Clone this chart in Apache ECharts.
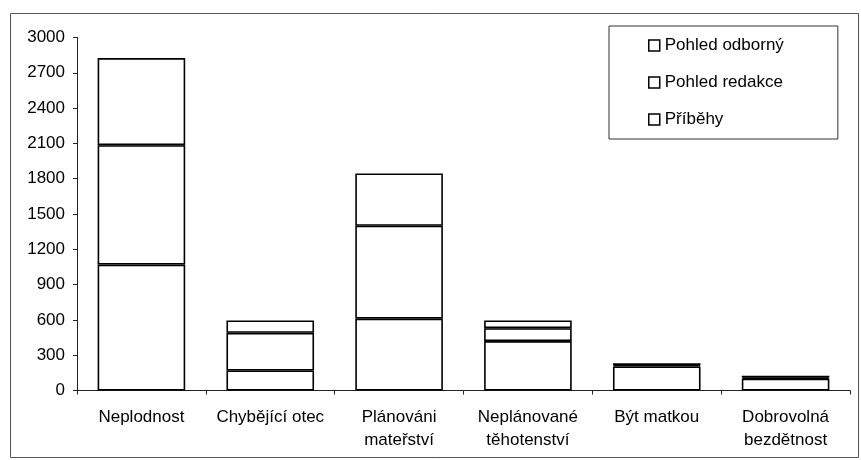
<!DOCTYPE html>
<html>
<head>
<meta charset="utf-8">
<script src="https://cdn.jsdelivr.net/npm/echarts@6/dist/echarts.min.js"></script>
<style>html,body{margin:0;padding:0;background:#fff;}#c{width:861px;height:460px;}</style>
</head>
<body>
<div id="c"></div>
<script>
const categories = ['Neplodnost', 'Chybějící otec', 'Plánováni\nmateřství', 'Neplánované\ntěhotenství', 'Být matkou', 'Dobrovolná\nbezdětnost'];
const seriesNames = ['Příběhy', 'Pohled redakce', 'Pohled odborný'];
const pribehy = [1070, 170, 610, 420, 205, 100];
const pohledRedakce = [1015, 320, 790, 110, 10, 10];
const pohledOdborny = [740, 105, 445, 65, 17, 15];
const yTicks = { min: 0, max: 3000, interval: 300 };

const font = 'Liberation Sans, Arial, sans-serif';
const chart = echarts.init(document.getElementById('c'), null, { renderer: 'canvas' });
const values = [pribehy, pohledRedakce, pohledOdborny];
const barStyle = { color: '#ffffff', borderColor: '#000000', borderWidth: 1.6 };

chart.setOption({
  backgroundColor: '#ffffff',
  animation: false,
  graphic: [{
    type: 'rect', left: 8, top: 11, silent: true,
    shape: { width: 848, height: 444 },
    style: { fill: 'none', stroke: '#555', lineWidth: 1 }
  }],
  legend: {
    orient: 'vertical',
    left: 609, top: 26,
    data: ['Pohled odborný', 'Pohled redakce', 'Příběhy'],
    icon: 'rect',
    itemWidth: 11, itemHeight: 11,
    itemGap: 20,
    padding: [11, 54, 11, 39],
    borderColor: '#333', borderWidth: 1,
    textStyle: { fontFamily: font, fontSize: 17, color: '#000' },
    itemStyle: { color: '#fff', borderColor: '#000', borderWidth: 1.5 }
  },
  grid: { left: 77, right: 11, top: 37.5, bottom: 69.5, containLabel: false },
  xAxis: {
    type: 'category',
    data: categories,
    axisLine: { lineStyle: { color: '#222', width: 1 } },
    axisTick: { show: true, length: 4, lineStyle: { color: '#222' } },
    axisLabel: { fontFamily: font, fontSize: 17, color: '#000', margin: 15, lineHeight: 23, interval: 0 }
  },
  yAxis: {
    type: 'value',
    min: yTicks.min, max: yTicks.max, interval: yTicks.interval,
    axisLine: { show: true, lineStyle: { color: '#222', width: 1 } },
    axisTick: { show: true, length: 4, lineStyle: { color: '#222' } },
    splitLine: { show: false },
    axisLabel: { fontFamily: font, fontSize: 17, color: '#000', margin: 12, formatter: v => String(v) }
  },
  series: seriesNames.map((n, i) => ({
    name: n, type: 'bar', stack: 'total',
    data: values[i],
    barWidth: '68%',
    itemStyle: barStyle,
    emphasis: { disabled: true }
  }))
});
</script>
</body>
</html>
